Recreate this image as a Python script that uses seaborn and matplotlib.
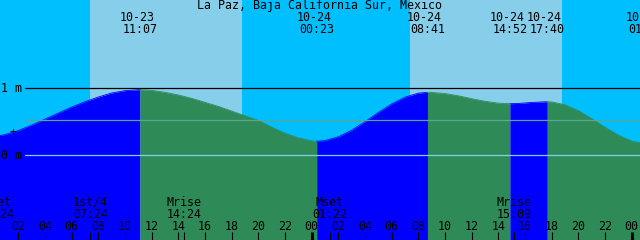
import matplotlib
matplotlib.use("Agg")
import matplotlib.pyplot as plt
import matplotlib.transforms as mtransforms
import seaborn as sns
import pandas as pd

# ---------------- data (hours counted from 10-23 00:00) ----------------
title = "La Paz, Baja California Sur, Mexico"

tide_hours = [-1.5, 0.0, 1, 2, 3, 4, 5, 6, 7, 8, 9, 10, 11.117,
              12, 13, 14, 15, 16, 17, 18, 19, 20, 21, 22, 23, 24, 24.383,
              25, 26, 27, 28, 29, 30, 31, 32, 32.683,
              33, 34, 35, 36, 37, 38, 38.867,
              39.5, 40.5, 41.667,
              42, 43, 44, 45, 46, 47, 48, 49.07]
tide_height_m = [0.24, 0.27, 0.31, 0.37, 0.45, 0.54, 0.63, 0.72, 0.80, 0.87, 0.93, 0.965, 0.98,
                 0.97, 0.94, 0.90, 0.85, 0.79, 0.73, 0.66, 0.59, 0.52, 0.42, 0.33, 0.26, 0.215, 0.21,
                 0.22, 0.276, 0.374, 0.502, 0.639, 0.767, 0.868, 0.928, 0.94,
                 0.939, 0.922, 0.888, 0.845, 0.806, 0.778, 0.77,
                 0.774, 0.789, 0.80,
                 0.797, 0.754, 0.666, 0.547, 0.418, 0.301, 0.213, 0.17]

extreme_hours = [-1.5, 11.117, 24.383, 32.683, 38.867, 41.667, 49.07]
extreme_dates = ["10-22", "10-23", "10-24", "10-24", "10-24", "10-24", "10-25"]
extreme_times = ["23:30", "11:07", "00:23", "08:41", "14:52", "17:40", "01:04"]

sunrise_hours = [7.367, 31.367]
sunset_hours = [18.75, 42.75]

moon_hours = [0.4, 7.4, 14.4, 25.367, 39.15]
moon_names = ["Mset", "1st/4", "Mrise", "Mset", "Mrise"]
moon_times = ["00:24", "07:24", "14:24", "01:22", "15:09"]

hour_ticks = list(range(2, 49, 2))
level_lines_m = [1.0, 0.52, 0.0]
level_labels = ["1 m", None, "0 m"]
marker_level_m = 0.345

# ---------------- style ----------------
NIGHT = "#00BFFF"
DAY = "#87CEEB"
RISE = "#0000FF"
FALL = "#2E8B57"

sns.set_style("white")
plt.rcParams["font.family"] = ["DejaVu Sans Mono"]
FS = 8.4

W, H = 640, 240
fig = plt.figure(figsize=(6.4, 2.4), dpi=100)
ax = fig.add_axes([0, 0, 1, 1])
x0, x1 = 0.6225, 48.6225
y0, y1 = -1.264, 2.318
ax.set_xlim(x0, x1)
ax.set_ylim(y0, y1)
ax.axis("off")

px = 48.0 / W  # hours per pixel
trans = mtransforms.blended_transform_factory(ax.transData, ax.transAxes)
trans_ay = mtransforms.blended_transform_factory(ax.transAxes, ax.transData)

def fy(ypix):
    return 1 - ypix / H

# background night / day
ax.axvspan(x0 - 5, x1 + 5, color=NIGHT, lw=0, zorder=0)
for sr, ss in zip(sunrise_hours, sunset_hours):
    ax.axvspan(sr, ss, color=DAY, lw=0, zorder=0.5)

# tide curve, coloured by rising / falling
df = pd.DataFrame({"hour": tide_hours, "height": tide_height_m})
for a, b in zip(extreme_hours[:-1], extreme_hours[1:]):
    seg = df[(df.hour >= a - 1e-6) & (df.hour <= b + 1e-6)]
    rising = seg.height.iloc[-1] > seg.height.iloc[0]
    col = RISE if rising else FALL
    ax.fill_between(seg.hour, seg.height, y0, color=col, lw=0, zorder=1)
    sns.lineplot(x=seg.hour.values, y=seg.height.values, ax=ax, color=col,
                 lw=0.6, zorder=1.1, legend=False)

# level lines
line_cols = ["black", "#5FA392", "#87CEEB"]
for lv, c in zip(level_lines_m, line_cols):
    ax.axhline(lv, xmin=25 / W, xmax=1, color=c, lw=0.9, zorder=2)
for lv, lab in zip(level_lines_m, level_labels):
    if lab:
        ax.text(1 / W, lv, lab, transform=trans_ay, ha="left", va="center",
                fontsize=FS, color="black", zorder=3)
ax.text(13 / W, marker_level_m, "+", transform=trans_ay,
        ha="center", va="center", fontsize=FS, color="black", zorder=3)

# title
ax.text(319.5 / W, fy(5.6), title, transform=ax.transAxes, ha="center", va="center",
        fontsize=FS, color="black", zorder=3)

# extreme labels on top (only those whose time falls inside the chart)
for t, d, tm in zip(extreme_hours, extreme_dates, extreme_times):
    if x0 < t < x1 + 3:
        ax.text(t - 3 * px, fy(17.6), d, transform=trans, ha="center", va="center",
                fontsize=FS, color="black", zorder=3)
        ax.text(t, fy(29.6), tm, transform=trans, ha="center", va="center",
                fontsize=FS, color="black", zorder=3)

# moon labels
for t, n, tm in zip(moon_hours, moon_names, moon_times):
    ax.text(t, fy(202), n, transform=trans, ha="center", va="center",
            fontsize=FS, color="black", zorder=3)
    ax.text(t, fy(214), tm, transform=trans, ha="center", va="center",
            fontsize=FS, color="black", zorder=3)

# hour ticks and labels
for h in hour_ticks:
    ax.text(h, fy(226), "%02d" % (h % 24), transform=trans, ha="center", va="center",
            fontsize=FS, color="black", zorder=3)
    bold = (h % 24 == 0)
    ax.plot([h, h], [0, fy(232)], transform=trans, color="black",
            lw=2.2 if bold else 0.8, solid_capstyle="butt", zorder=3)
for t in moon_hours:
    ax.plot([t, t], [0, fy(232)], transform=trans, color="black", lw=0.8,
            solid_capstyle="butt", zorder=3)

fig.savefig("out.png", dpi=100)
